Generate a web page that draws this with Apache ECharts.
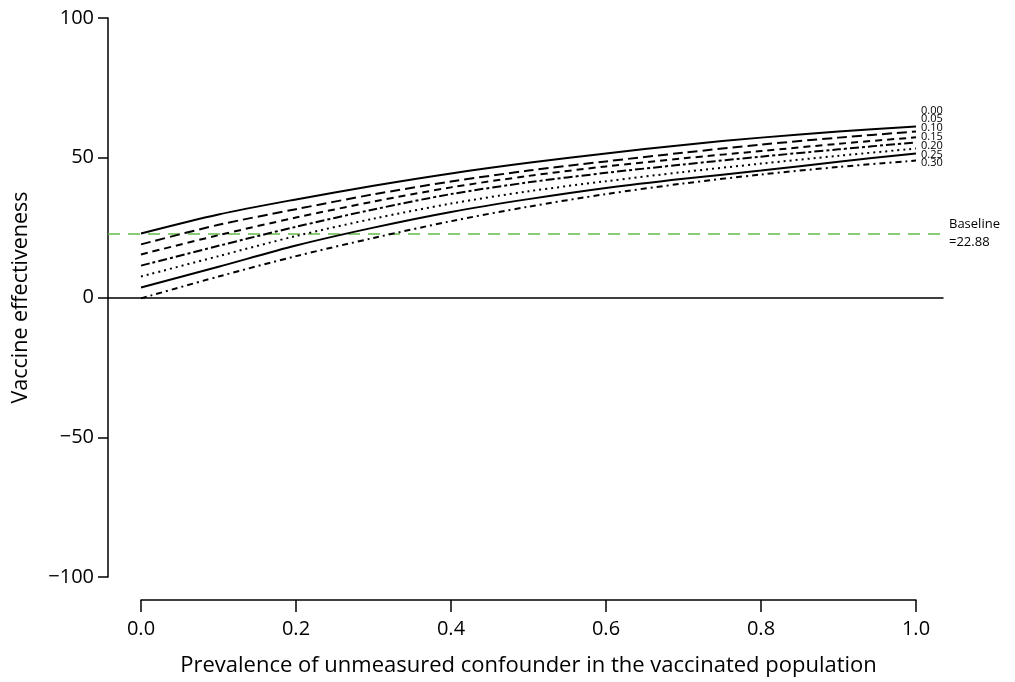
<!DOCTYPE html>
<html>
<head>
<meta charset="utf-8">
<script src="https://cdn.jsdelivr.net/npm/echarts@6/dist/echarts.min.js"></script>
<style>html,body{margin:0;padding:0;background:#fff}#c{width:1015px;height:682px}</style>
</head>
<body>
<div id="c"></div>
<script>
var xValues = [0, 0.1, 0.2, 0.3, 0.4, 0.5, 0.6, 0.7, 0.8, 0.9, 1.0];
var seriesNames = ['0.00', '0.05', '0.10', '0.15', '0.20', '0.25', '0.30'];
var ve000 = [22.9, 29.7, 35.1, 40.0, 44.4, 48.2, 51.5, 54.6, 57.2, 59.4, 61.2];
var ve005 = [19.0, 26.0, 31.6, 36.9, 41.5, 45.4, 48.7, 51.8, 54.7, 57.2, 59.4];
var ve010 = [15.4, 22.3, 28.6, 34.3, 39.4, 43.5, 46.9, 49.8, 52.4, 55.0, 57.3];
var ve015 = [11.4, 18.5, 25.3, 31.5, 37.0, 41.2, 44.6, 47.6, 50.4, 53.0, 55.5];
var ve020 = [7.5, 14.8, 22.0, 28.2, 33.6, 38.0, 41.6, 44.9, 47.9, 50.7, 53.3];
var ve025 = [3.6, 11.0, 18.6, 25.0, 30.6, 35.2, 39.2, 42.5, 45.4, 48.6, 51.5];
var ve030 = [-0.3, 7.5, 14.8, 21.3, 27.3, 32.5, 37.0, 40.8, 44.0, 46.7, 49.0];
var baseline = 22.88;
var yTicks = [-100, -50, 0, 50, 100];
var xTicks = [0, 0.2, 0.4, 0.6, 0.8, 1.0];

var allValues = [ve000, ve005, ve010, ve015, ve020, ve025, ve030];
var dashes = ['solid', [10, 5], [7, 5], [9, 3, 3, 3], [2, 4], 'solid', [6, 4, 2, 4]];
var FONT = 'Open Sans';

var chart = echarts.init(document.getElementById('c'));
var series = allValues.map(function (vals, i) {
  return {
    name: seriesNames[i],
    type: 'line',
    xAxisIndex: 0, yAxisIndex: 0,
    data: vals.map(function (v, j) { return [xValues[j], v]; }),
    symbol: 'none',
    smooth: 0.3,
    lineStyle: { color: '#000', width: 2, type: dashes[i] },
    z: 3
  };
});
series[0].markLine = {
  silent: true,
  symbol: 'none',
  data: [{ yAxis: baseline }],
  lineStyle: { color: '#66bb4a', width: 1.6, type: [12, 8] },
  label: {
    position: 'end', distance: 6, formatter: 'Baseline\n=' + baseline.toFixed(2),
    color: '#000', fontFamily: FONT, fontSize: 13, lineHeight: 18, align: 'left'
  },
  z: 2
};

// main grid: 108..943 px; x data scale 0->141px, 1->916px
var pxPerUnit = 775;
var xMin = -(141 - 108) / pxPerUnit;
var xMax = 1 + (943 - 916) / pxPerUnit;

chart.setOption({
  animation: false,
  backgroundColor: '#fff',
  grid: [
    { left: 108, right: 72, top: 18, bottom: 105, containLabel: false, outerBoundsMode: 'none' },
    { left: 141, right: 99, top: 18, bottom: 82, containLabel: false, outerBoundsMode: 'none' }
  ],
  xAxis: [
    {
      gridIndex: 0, type: 'value', min: xMin, max: xMax,
      axisLine: { show: true, onZero: true, lineStyle: { color: '#000', width: 1.5 } },
      axisTick: { show: false }, axisLabel: { show: false }, splitLine: { show: false }
    },
    {
      gridIndex: 1, type: 'value', min: 0, max: 1, interval: 0.2, position: 'bottom',
      axisLine: { show: true, onZero: false, lineStyle: { color: '#000', width: 1.5 } },
      axisTick: { show: true, length: 12, lineStyle: { color: '#000', width: 1.5 } },
      axisLabel: { color: '#000', fontFamily: FONT, fontSize: 20, margin: 19,
        formatter: function (v) { return v.toFixed(1); } },
      splitLine: { show: false },
      name: 'Prevalence of unmeasured confounder in the vaccinated population',
      nameLocation: 'middle', nameGap: 55,
      nameTextStyle: { color: '#000', fontFamily: FONT, fontSize: 22 }
    }
  ],
  yAxis: [
    {
      gridIndex: 0, type: 'value', min: yTicks[0], max: yTicks[yTicks.length - 1], interval: 50,
      axisLine: { show: true, onZero: false, lineStyle: { color: '#000', width: 1.5 } },
      axisTick: { show: true, length: 10, lineStyle: { color: '#000', width: 1.5 } },
      axisLabel: { color: '#000', fontFamily: FONT, fontSize: 20, margin: 14,
        formatter: function (v) { return String(v).replace('-', '\u2212'); } },
      splitLine: { show: false },
      name: 'Vaccine effectiveness', nameLocation: 'middle', nameGap: 76,
      nameTextStyle: { color: '#000', fontFamily: FONT, fontSize: 21.5 }
    },
    {
      gridIndex: 1, type: 'value', show: false, min: 0, max: 1
    }
  ],
  graphic: [{
    type: 'text', left: 921, top: 105,
    style: {
      text: seriesNames.join('\n'), fill: '#000', font: '11px "' + FONT + '"', lineHeight: 8.8
    }
  }],
  series: series
});
</script>
</body>
</html>
